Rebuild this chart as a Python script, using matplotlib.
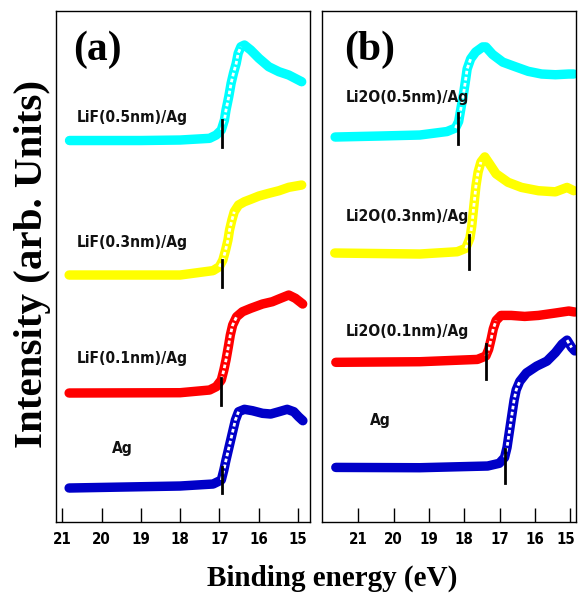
import matplotlib
matplotlib.use('Agg')
import matplotlib.pyplot as plt
from matplotlib import font_manager
import matplotlib.transforms as mtransforms
import numpy as np

# ---------------- data (binding energy in eV, intensity in arb. units) ----------------
# Panel (a): LiF/Ag
a_cyan_E = [20.82, 20.0, 19.0, 18.0, 17.25, 17.08, 16.95, 16.87, 16.83, 16.76, 16.70, 16.64,
            16.57, 16.52, 16.45, 16.36, 16.20, 15.99, 15.74, 15.48, 15.23, 14.90]
a_cyan_I = [381.5, 381.5, 381.5, 382, 383.7, 387, 392, 402, 412, 425.3, 438.7, 448.7,
            458.7, 468.7, 475.3, 477, 472, 463.7, 455.3, 450.3, 447, 440.3]

a_yellow_E = [20.83, 18.0, 17.16, 17.0, 16.91, 16.84, 16.78, 16.74, 16.68, 16.62, 16.51, 16.36,
              16.20, 15.99, 15.74, 15.48, 15.23, 14.90]
a_yellow_I = [247, 247, 251.4, 255.3, 262, 272, 282, 292, 302, 310.3, 317, 320.3,
              322.7, 326, 328.7, 331.3, 334.7, 337]

a_red_E = [20.83, 18.0, 17.25, 17.08, 16.95, 16.885, 16.83, 16.77, 16.72, 16.66, 16.56, 16.41,
           16.20, 15.90, 15.65, 15.44, 15.23, 15.06, 14.875]
a_red_I = [129, 129.3, 132, 135.3, 142, 152, 162, 175.3, 187, 197, 205.3, 210.3,
           213.7, 218, 220.3, 223.7, 227, 223.7, 218]

a_blue_E = [20.83, 18.0, 17.16, 16.95, 16.885, 16.83, 16.76, 16.70, 16.64, 16.59, 16.51, 16.36,
            16.155, 15.90, 15.69, 15.48, 15.27, 15.10, 14.98, 14.87]
a_blue_I = [34, 36, 38, 42, 52, 62, 73.7, 83.7, 93.7, 102, 110.3, 112.7,
            111.3, 108.7, 108, 110.3, 112.7, 110.3, 105.3, 101.3]

# Panel (b): Li2O/Ag
b_cyan_E = [21.66, 20.39, 19.26, 18.49, 18.25, 18.16, 18.11, 18.06, 18.01, 17.96, 17.92, 17.82,
            17.68, 17.48, 17.39, 17.20, 16.91, 16.57, 16.19, 15.81, 15.42, 15.04, 14.90]
b_cyan_I = [385, 386, 387, 390.5, 394, 400.6, 410.8, 421, 431.1, 443, 453.1, 463.2,
            470, 475.1, 475.1, 467.6, 459.9, 455.5, 450.7, 448, 447.3, 448, 448]

b_yellow_E = [21.67, 19.26, 18.20, 17.96, 17.84, 17.79, 17.75, 17.71, 17.67, 17.61, 17.53, 17.42,
              17.29, 17.10, 16.76, 16.38, 15.90, 15.42, 15.09, 14.90]
b_yellow_I = [269, 268, 270.3, 273.7, 284, 295.7, 309.3, 322.8, 336.3, 349.9, 360, 365.1,
              358.3, 348.2, 339.7, 334.6, 331.3, 330.2, 334.6, 331.3]

b_red_E = [21.64, 19.26, 17.63, 17.39, 17.31, 17.24, 17.18, 17.10, 16.96, 16.67, 16.29, 15.90,
           15.42, 15.04, 14.87]
b_red_I = [159.7, 160.3, 162.6, 166, 172.8, 183, 193.1, 201.5, 206.6, 206.6, 205.6, 206.6,
           209, 211, 210]

b_blue_E = [21.64, 19.26, 17.34, 17.01, 16.86, 16.79, 16.74, 16.69, 16.64, 16.59, 16.53, 16.43,
            16.24, 15.95, 15.66, 15.42, 15.23, 15.09, 14.96, 14.87]
b_blue_I = [54.6, 54.3, 56, 58.7, 64.5, 74.6, 86.5, 98.3, 110.2, 122, 132.2, 140.6,
            149.1, 155.9, 160.9, 169.4, 177.9, 181.9, 174.5, 171.1]

# onset (cut-off) markers: energy, low, high
a_onset_E = [16.94, 16.94, 16.96, 16.92]
a_onset_lo = [375.3, 235.3, 117, 28.7]
a_onset_hi = [402, 262, 144, 55.3]
b_onset_E = [18.17, 17.87, 17.38, 16.86]
b_onset_lo = [377.6, 253.4, 143.3, 39.1]
b_onset_hi = [409.5, 287.3, 177.9, 73]

a_labels = ['LiF(0.5nm)/Ag', 'LiF(0.3nm)/Ag', 'LiF(0.1nm)/Ag', 'Ag']
b_labels = ['Li2O(0.5nm)/Ag', 'Li2O(0.3nm)/Ag', 'Li2O(0.1nm)/Ag', 'Ag']
xticks = [21, 20, 19, 18, 17, 16, 15]

# ---------------- styling ----------------
colors = ['#00ffff', '#ffff00', '#ff0000', '#0000c8']
entries = font_manager.fontManager.ttflist
names = {f.name for f in entries}
if 'Liberation Sans Narrow' in names:
    cond_fp = dict(family='Liberation Sans Narrow', fontweight='bold')
    tick_fs, lab_fs = 12, 12.5
elif any(f.name == 'DejaVu Sans' and str(f.stretch) in ('condensed', '75', 'semi-condensed')
         for f in entries):
    cond_fp = dict(family='DejaVu Sans', fontweight='bold', fontstretch='condensed')
    tick_fs, lab_fs = 10.8, 11.2
else:
    cond_fp = dict(family='Liberation Sans', fontweight='bold')
    tick_fs, lab_fs = 10.8, 11
serif = 'Liberation Serif'

fig = plt.figure(figsize=(5.78, 5.93), dpi=100)
ax_a = fig.add_axes([0.0972, 0.1197, 0.4397, 0.8617])
ax_b = fig.add_axes([0.5578, 0.1197, 0.4379, 0.8617])

panels = [
    (ax_a, [(a_cyan_E, a_cyan_I), (a_yellow_E, a_yellow_I), (a_red_E, a_red_I), (a_blue_E, a_blue_I)],
     (a_onset_E, a_onset_lo, a_onset_hi), a_labels, (21.16, 14.68), '(a)', 0.163,
     [(20.63, 405), (20.63, 280), (20.63, 164), (19.74, 74)]),
    (ax_b, [(b_cyan_E, b_cyan_I), (b_yellow_E, b_yellow_I), (b_red_E, b_red_I), (b_blue_E, b_blue_I)],
     (b_onset_E, b_onset_lo, b_onset_hi), b_labels, (22.02, 14.85), '(b)', 0.188,
     [(21.35, 425), (21.35, 306), (21.35, 191), (20.67, 102)]),
]

for ax, series, onsets, labels, xl, tag, tagx, labpos in panels:
    ax.set_xlim(*xl)
    ax.set_ylim(0, 511)
    for (E, I), c in zip(series, colors):
        ax.plot(E, I, color=c, lw=6.8, solid_capstyle='round', solid_joinstyle='round', zorder=2)
        # hollow look of the open-circle markers on steep parts of the curve
        pix = ax.transData.transform(np.column_stack([E, I]))
        d = np.diff(pix, axis=0)
        steep = np.abs(d[:, 1]) > 1.6 * np.abs(d[:, 0])
        i = 0
        while i < len(steep):
            if steep[i]:
                j = i
                while j < len(steep) and steep[j]:
                    j += 1
                ax.plot(E[i:j + 1], I[i:j + 1], color='white', lw=2.0,
                        dashes=(1.3, 0.9), solid_capstyle='butt', zorder=2.5)
                i = j
            else:
                i += 1
    for e, lo, hi in zip(*onsets):
        ax.plot([e, e], [lo, hi], color='black', lw=2.0, zorder=3)
    for (x, y), t in zip(labpos, labels):
        ax.text(x, y, t, fontsize=lab_fs, ha='left', va='center', color='#111111', **cond_fp)
    ax.text(tagx, 0.924, tag, transform=ax.transAxes, fontsize=30, fontweight='bold',
            family=serif, ha='center', va='center')
    ax.set_xticks(xticks)
    ax.set_yticks([])
    ax.tick_params(axis='x', direction='in', length=10, width=1, pad=7,
                   labelsize=tick_fs)
    for lbl in ax.get_xticklabels():
        lbl.set_family(cond_fp['family'])
        lbl.set_fontweight('bold')
        if 'fontstretch' in cond_fp:
            lbl.set_fontstretch(cond_fp['fontstretch'])
    for s in ax.spines.values():
        s.set_linewidth(1.0)

# keep the last tick label of panel (b) inside the figure
last = ax_b.get_xticklabels()[-1]
last.set_transform(last.get_transform() +
                   mtransforms.ScaledTranslation(-3 / 72, 0, fig.dpi_scale_trans))

fig.text(0.575, 0.025, 'Binding energy (eV)', fontsize=21, fontweight='bold', family=serif,
         ha='center', va='center')
fig.text(0.057, 0.555, 'Intensity (arb. Units)', fontsize=29.5, fontweight='bold', family=serif,
         ha='center', va='center', rotation=90)

fig.savefig('out.png', dpi=100)
